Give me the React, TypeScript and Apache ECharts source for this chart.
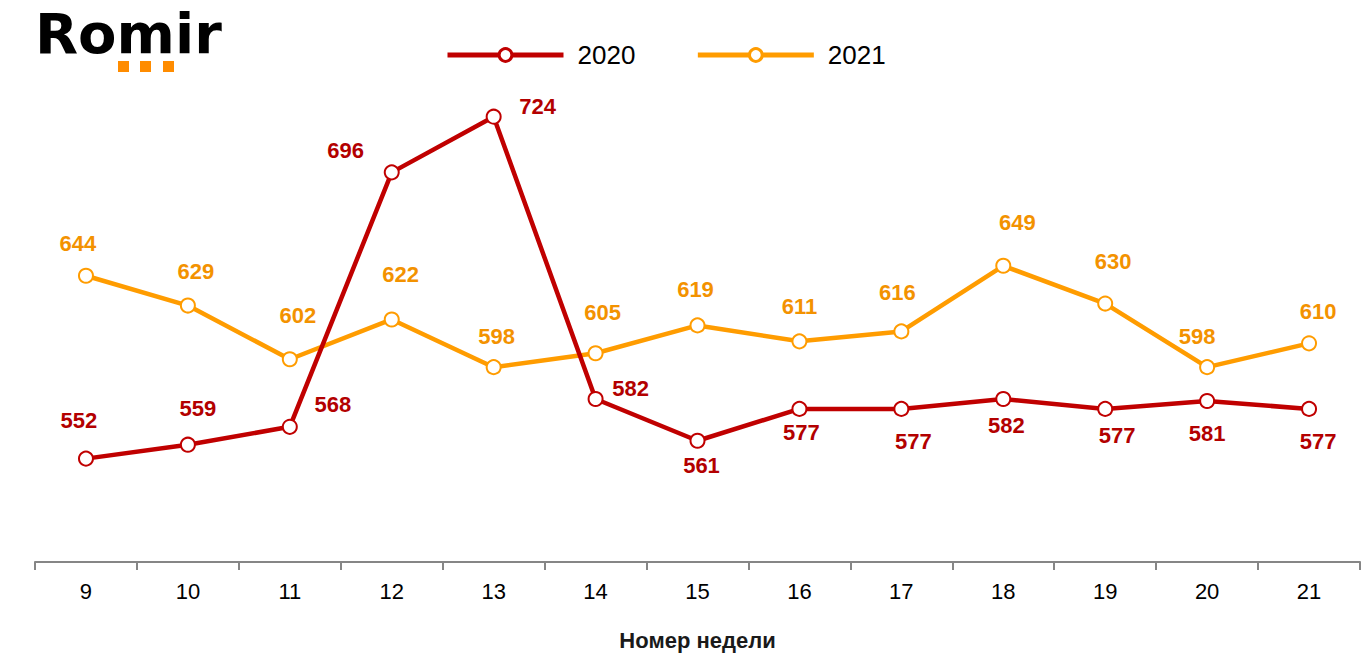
import React, { useEffect, useRef } from "react";
import * as echarts from "echarts";

const weeks = ["9", "10", "11", "12", "13", "14", "15", "16", "17", "18", "19", "20", "21"];
const values2020 = [552, 559, 568, 696, 724, 582, 561, 577, 577, 582, 577, 581, 577];
const values2021 = [644, 629, 602, 622, 598, 605, 619, 611, 616, 649, 630, 598, 610];

const labelOffsets2020 = [
  [-7, -38], [10, -36], [43, -22], [-46, -22], [44, -10], [35, -10], [4, 25],
  [2, 24], [12, 33], [3, 27], [12, 27], [0, 33], [9, 33],
];
const labelOffsets2021 = [
  [-8, -32], [8, -34], [8, -44], [9, -45], [3, -31], [7, -41], [-2, -36],
  [0, -35], [-4, -39], [14, -43], [8, -42], [-10, -31], [9, -32],
];

const RED = "#C00000";
const RED_LABEL = "#B30000";
const ORANGE = "#FF9C00";
const ORANGE_LABEL = "#F39200";
const FONT = '"Liberation Sans", Arial, sans-serif';

function buildData(values: number[], offsets: number[][], color: string) {
  return values.map((v, i) => ({
    value: v,
    label: {
      show: true,
      position: "inside",
      offset: offsets[i],
      color,
      fontSize: 22,
      fontWeight: "bold",
      fontFamily: FONT,
    },
  }));
}

export default function App() {
  const ref = useRef<HTMLDivElement>(null);
  useEffect(() => {
    if (!ref.current) return;
    const chart = echarts.init(ref.current, undefined, { renderer: "svg" });
    chart.setOption({
      animation: false,
      backgroundColor: "#ffffff",
      grid: { left: 35, right: 10, top: 65, bottom: 108, containLabel: false },
      legend: {
        left: 440,
        top: 37,
        itemWidth: 116,
        itemHeight: 16,
        itemGap: 60,
        lineStyle: { width: 5 },
        itemStyle: { borderWidth: 3 },
        textStyle: { fontSize: 26, color: "#000", fontFamily: FONT, padding: [0, 0, 0, 9] },
        data: ["2020", "2021"],
      },
      xAxis: {
        type: "category",
        data: weeks,
        boundaryGap: true,
        axisLine: { lineStyle: { color: "#868686", width: 2 } },
        axisTick: { show: true, length: 8, interval: 0, lineStyle: { color: "#868686", width: 2 } },
        axisLabel: { fontSize: 22, color: "#000", fontFamily: FONT, margin: 18, interval: 0 },
        name: "Номер недели",
        nameLocation: "middle",
        nameGap: 67,
        nameTextStyle: { fontSize: 22, fontWeight: "bold", color: "#1a1a1a", fontFamily: FONT },
      },
      yAxis: {
        type: "value",
        min: 500,
        max: 750,
        show: false,
        splitLine: { show: false },
      },
      series: [
        {
          name: "2020",
          type: "line",
          data: buildData(values2020, labelOffsets2020, RED_LABEL),
          symbol: "circle",
          symbolSize: 14,
          lineStyle: { color: RED, width: 4.5 },
          itemStyle: { color: "#ffffff", borderColor: RED, borderWidth: 2 },
          z: 3,
        },
        {
          name: "2021",
          type: "line",
          data: buildData(values2021, labelOffsets2021, ORANGE_LABEL),
          symbol: "circle",
          symbolSize: 14,
          lineStyle: { color: ORANGE, width: 4.5 },
          itemStyle: { color: "#ffffff", borderColor: ORANGE, borderWidth: 2 },
          z: 2,
        },
      ],
      graphic: [
        {
          type: "text",
          x: 35,
          y: 33,
          style: {
            text: "Romir",
            font: 'bold 56px "DejaVu Sans", sans-serif',
            fill: "#000",
            verticalAlign: "middle",
            align: "left",
          },
        },
        { type: "rect", shape: { x: 118, y: 61, width: 11, height: 11 }, style: { fill: "#FF8C00" } },
        { type: "rect", shape: { x: 140, y: 61, width: 11, height: 11 }, style: { fill: "#FF8C00" } },
        { type: "rect", shape: { x: 163, y: 61, width: 11, height: 11 }, style: { fill: "#FF8C00" } },
      ],
    });
    return () => chart.dispose();
  }, []);
  return (
    <div
      ref={ref}
      style={{ position: "fixed", left: 0, top: 0, width: 1370, height: 670, background: "#fff" }}
    />
  );
}
